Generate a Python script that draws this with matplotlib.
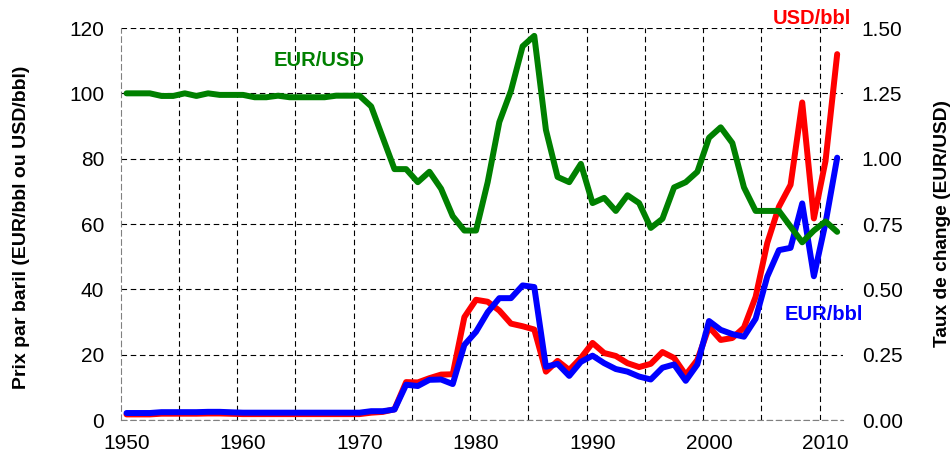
import matplotlib
matplotlib.use("Agg")
import matplotlib.pyplot as plt
from matplotlib.ticker import FixedLocator, FuncFormatter
import numpy as np

plt.rcParams['font.family'] = ['Liberation Sans', 'DejaVu Sans']

years = list(range(1950, 2012))

usd_bbl = [1.71, 1.71, 1.71, 1.93, 1.93, 1.93, 1.93, 2.0, 2.0, 1.9,
           1.8, 1.8, 1.8, 1.8, 1.8, 1.8, 1.8, 1.8, 1.8, 1.8,
           1.8, 2.24, 2.48, 3.29, 11.6, 11.5, 12.8, 13.9, 14.0, 31.5,
           36.8, 36.2, 33.5, 29.5, 28.7, 27.7, 14.8, 18.1, 15.3, 19.0,
           23.6, 20.5, 19.6, 17.4, 16.2, 17.2, 20.8, 19.0, 13.8, 18.4,
           28.5, 24.5, 25.1, 28.3, 37.7, 54.2, 65.3, 72.0, 97.2, 61.7,
           79.3, 112.0]

eur_bbl = [2.14, 2.14, 2.14, 2.4, 2.4, 2.4, 2.4, 2.5, 2.5, 2.36,
           2.24, 2.24, 2.24, 2.24, 2.24, 2.24, 2.24, 2.24, 2.24, 2.24,
           2.24, 2.7, 2.7, 3.2, 10.8, 10.4, 12.3, 12.4, 11.0, 23.0,
           27.0, 33.0, 37.3, 37.3, 41.2, 40.7, 16.3, 17.2, 13.5, 17.8,
           19.7, 17.4, 15.6, 14.8, 13.3, 12.4, 16.0, 17.0, 12.0, 17.0,
           30.3, 27.6, 26.3, 25.5, 31.0, 43.9, 52.0, 52.7, 66.3, 44.0,
           60.3, 80.3]

eur_usd = [1.25, 1.25, 1.25, 1.24, 1.24, 1.25, 1.24, 1.25, 1.244, 1.244,
           1.244, 1.235, 1.235, 1.241, 1.235, 1.235, 1.235, 1.235, 1.241, 1.241,
           1.241, 1.20, 1.08, 0.96, 0.96, 0.91, 0.95, 0.885, 0.78, 0.725,
           0.725, 0.91, 1.14, 1.26, 1.43, 1.47, 1.11, 0.93, 0.91, 0.98,
           0.83, 0.85, 0.80, 0.86, 0.83, 0.735, 0.77, 0.89, 0.91, 0.95,
           1.08, 1.12, 1.06, 0.89, 0.80, 0.80, 0.80, 0.74, 0.68, 0.725,
           0.76, 0.72]

x_ticks = [1950, 1960, 1970, 1980, 1990, 2000, 2010]
left_ticks = [0, 20, 40, 60, 80, 100, 120]
right_ticks = [0.0, 0.25, 0.5, 0.75, 1.0, 1.25, 1.5]

RED = '#ff0000'
BLUE = '#0000ff'
GREEN = '#008000'

fig = plt.figure(figsize=(9.53, 4.61), dpi=100)
ax = fig.add_axes([120.7/953, 1 - 420/461, (843 - 120.7)/953, (420 - 28)/461])
ax2 = ax.twinx()

lw = 4.3
ax.plot(years, usd_bbl, color=RED, lw=lw, solid_capstyle='round', solid_joinstyle='round', zorder=3)
ax.plot(years, eur_bbl, color=BLUE, lw=lw, solid_capstyle='round', solid_joinstyle='round', zorder=4)
ax2.plot(years, eur_usd, color=GREEN, lw=lw, solid_capstyle='round', solid_joinstyle='round', zorder=5)

ax.set_xlim(1949.5, 2011.5)
ax.set_ylim(0, 120)
ax2.set_ylim(0, 1.5)

ax.set_xticks(x_ticks)
ax.set_yticks(left_ticks)
ax2.set_yticks(right_ticks)
ax2.yaxis.set_major_formatter(FuncFormatter(lambda v, p: f"{v:.2f}"))

ax.xaxis.set_minor_locator(FixedLocator(np.arange(1954.5, 2010, 5)))

dash = (0, (5.0, 3.3))
ax.grid(True, which='minor', axis='x', color='black', lw=0.8, linestyle=dash)
ax.grid(True, which='major', axis='y', color='black', lw=0.8, linestyle=dash)
ax.grid(False, which='major', axis='x')
ax.set_axisbelow(True)

for a in (ax, ax2):
    for s in ('top', 'right', 'left', 'bottom'):
        a.spines[s].set_visible(False)
for s in ('left', 'bottom'):
    ax.spines[s].set_visible(True)
    ax.spines[s].set_color('#808080')
    ax.spines[s].set_linestyle(dash)
    ax.spines[s].set_linewidth(0.8)

ax.tick_params(axis='x', which='both', length=0, labelsize=15, pad=10)
ax.tick_params(axis='y', length=0, labelsize=15, pad=12)
ax2.tick_params(axis='y', length=0, labelsize=15, pad=13.5)

fig.text(22/953, 1 - 227/461, 'Prix par baril (EUR/bbl ou USD/bbl)', rotation=90,
         ha='center', va='center', fontsize=14, fontweight='bold')
fig.text(943/953, 1 - 223.5/461, 'Taux de change (EUR/USD)', rotation=90,
         ha='center', va='center', fontsize=13.8, fontweight='bold')

fig.text(319/953, 1 - 60/461, 'EUR/USD', color=GREEN, ha='center', va='center',
         fontsize=14.5, fontweight='bold')
fig.text(811.7/953, 1 - 18.5/461, 'USD/bbl', color=RED, ha='center', va='center',
         fontsize=14.5, fontweight='bold')
fig.text(824/953, 1 - 315/461, 'EUR/bbl', color=BLUE, ha='center', va='center',
         fontsize=14.5, fontweight='bold')

fig.savefig('out.png', dpi=100)
